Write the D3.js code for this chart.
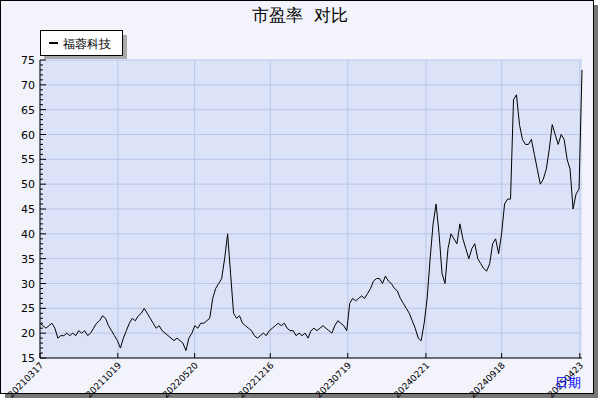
<!DOCTYPE html>
<html><head><meta charset="utf-8">
<script src="https://cdn.jsdelivr.net/npm/d3@7"></script>
<style>body{margin:0;background:#fff}text{font-family:"DejaVu Sans",sans-serif;white-space:pre}</style>
</head><body><div id="chart"></div>
<script>
// tick dates shown on the x axis
var tickLabels = ['20210317','20211019','20220520','20221216','20230719','20240221','20240918','20250423'];
var endDate = '20250429';
// P/E values, evenly spaced trading samples from first tick to end
var peValues = [22,21.5,21,21.5,22,21,
  19,19.5,19.5,20,19.5,20,19.5,
  20.5,20,20.5,19.5,20,21,22,22.5,
  23.5,23,21.5,20.5,19.5,18.5,17,
  19,20.5,22,23,22.5,23.5,24,25,24,
  23,22,21,21.5,20.5,20,19.5,19,18.5,19,18.5,18,
  16.5,19,20,21.5,21,22,22,22.5,23,
  27,29,30,31,35,40,32,
  24,23,23.5,22,21.5,21,20.5,19.5,19,
  19.5,20,19.5,20.5,21,21.5,22,21.5,22,21,20.5,20.5,19.5,
  20,19.5,20,19,20.5,21,20.5,21,21.5,21,20.5,20,21.5,22.5,22,21.5,
  20.5,
  26,27,26.5,27,27.5,27,28,29,30.5,31,
  31,30,31.5,30.5,30,29,28.5,27,26,
  25,24,22.5,21,19,18.5,
  22,27,35,42,46,40,32,
  30,37,40,39,38,42,39,37,35,
  37,38,35,34,33,32.5,34,38,39,36,
  40,46,47,47,
  67,68,62,59,58,58,59,
  56,53,50,51,53,57,
  62,60,58,60,59,
  55,53,45,48,
  49,73];
var yTicks = [15,20,25,30,35,40,45,50,55,60,65,70,75];
var seriesName = '福蓉科技';

var W = 600, H = 400, L = 40, R = 582, T = 60, B = 358;
var parse = d3.timeParse('%Y%m%d');
var svg = d3.select('#chart').append('svg').attr('width', W).attr('height', H);

// frame with shadow
svg.append('rect').attr('x', 5).attr('y', 5).attr('width', 593).attr('height', 393).attr('fill', '#777');
svg.append('rect').attr('x', 0.5).attr('y', 0.5).attr('width', 593).attr('height', 393)
  .attr('fill', '#f2f3fb').attr('stroke', '#000');

var x = d3.scaleTime().domain([parse(tickLabels[0]), parse(endDate)]).range([L, R]);
var y = d3.scaleLinear().domain([15, 75]).range([B, T]);
var t0 = +parse(tickLabels[0]), step = (+parse(endDate) - t0) / (peValues.length - 1);
var pts = peValues.map(function(v, i){ return {d: new Date(t0 + i * step), v: v}; });

svg.append('rect').attr('x', L).attr('y', T).attr('width', R - L).attr('height', B - T).attr('fill', '#dce2f7');

// grid
svg.selectAll('.hg').data(yTicks).enter().append('line')
  .attr('x1', L).attr('x2', R).attr('y1', function(d){ return y(d); }).attr('y2', function(d){ return y(d); })
  .attr('stroke', '#b9c7ea');
svg.selectAll('.vg').data(tickLabels).enter().append('line')
  .attr('x1', function(d){ return x(parse(d)); }).attr('x2', function(d){ return x(parse(d)); })
  .attr('y1', T).attr('y2', B).attr('stroke', '#b9c7ea');

// y axis
var ya = svg.append('g').attr('transform', 'translate(' + L + ',0)');
ya.append('line').attr('x1', 0).attr('x2', 0).attr('y1', T).attr('y2', B).attr('stroke', '#000');
ya.selectAll('.mt').data(d3.range(15, 76, 1)).enter().append('line')
  .attr('x1', 0).attr('x2', function(d){ return d % 5 === 0 ? 6 : 3; })
  .attr('y1', function(d){ return y(d); }).attr('y2', function(d){ return y(d); }).attr('stroke', '#000');
ya.selectAll('.yl').data(yTicks).enter().append('text')
  .attr('x', -5).attr('y', function(d){ return y(d) + 4; }).attr('text-anchor', 'end')
  .attr('font-size', 11).text(function(d){ return d; });

// x axis
svg.append('line').attr('x1', L).attr('x2', R).attr('y1', B).attr('y2', B).attr('stroke', '#000');
svg.selectAll('.xt').data(tickLabels).enter().append('line')
  .attr('x1', function(d){ return x(parse(d)); }).attr('x2', function(d){ return x(parse(d)); })
  .attr('y1', B).attr('y2', B - 5).attr('stroke', '#000');
svg.selectAll('.xl').data(tickLabels).enter().append('text')
  .attr('transform', function(d){ return 'translate(' + (x(parse(d)) + 4) + ',' + (B + 8) + ') rotate(-45)'; })
  .attr('text-anchor', 'end').attr('font-size', 9).text(function(d){ return d; });

// line
svg.append('path').datum(pts).attr('fill', 'none').attr('stroke', '#000').attr('stroke-width', 1)
  .attr('d', d3.line().x(function(d){ return x(d.d); }).y(function(d){ return y(d.v); }));

// title
svg.append('text').attr('x', 300).attr('y', 21).attr('text-anchor', 'middle').attr('font-size', 17)
  .attr('font-family', 'Noto Sans CJK SC').text('市盈率  对比');

// legend
svg.append('rect').attr('x', 44).attr('y', 35).attr('width', 83).attr('height', 24).attr('fill', '#aaa');
svg.append('rect').attr('x', 40.5).attr('y', 30.5).attr('width', 82).attr('height', 25).attr('fill', '#fff').attr('stroke', '#000');
svg.append('line').attr('x1', 49).attr('x2', 58).attr('y1', 43).attr('y2', 43).attr('stroke', '#000').attr('stroke-width', 2);
svg.append('text').attr('x', 63).attr('y', 48).attr('font-size', 12).attr('font-family', 'Noto Sans CJK SC').text(seriesName);

// axis title
svg.append('text').attr('x', 555).attr('y', 387).attr('font-size', 13).attr('fill', '#00f')
  .attr('font-family', 'Noto Sans CJK SC').text('日期');
</script></body></html>
